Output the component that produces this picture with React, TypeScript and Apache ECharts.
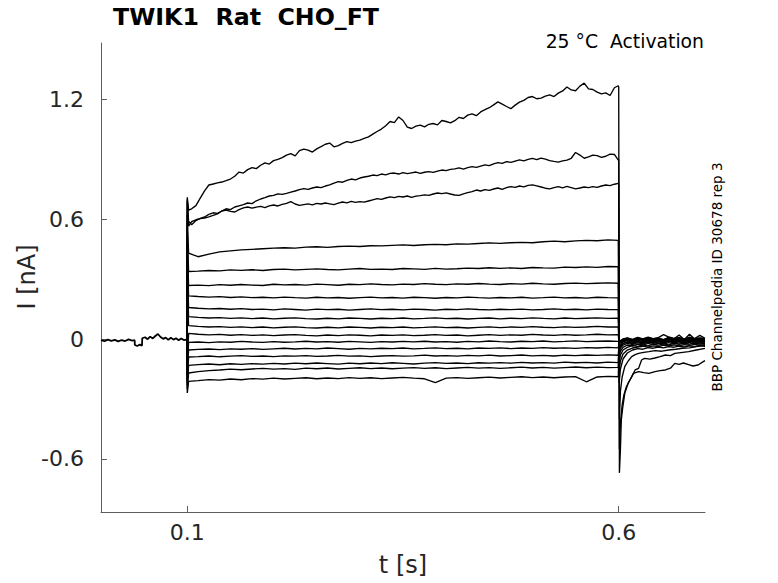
import React, { useEffect, useRef } from "react";
import * as echarts from "echarts";

// holding period before the step (shared by every sweep)
const baseT = [0, 0.004, 0.008, 0.012, 0.016, 0.02, 0.024, 0.028, 0.032, 0.036, 0.039, 0.0392, 0.042, 0.045, 0.0475, 0.0478, 0.051, 0.054, 0.057, 0.06, 0.063, 0.066, 0.069, 0.072, 0.075, 0.078, 0.081, 0.084, 0.087, 0.09, 0.093, 0.096, 0.0995];
const baseI = [-0.006, -0.011, -0.003, -0.009, -0.004, -0.012, -0.005, -0.010, -0.002, -0.008, -0.006, -0.030, -0.035, -0.028, -0.033, 0.004, 0.009, -0.001, 0.012, 0.003, 0.015, 0.025, 0.010, 0.001, 0.007, -0.004, 0.006, -0.003, 0.004, -0.006, 0.003, -0.005, -0.003];

// capacitive spike at step onset, one per sweep (top to bottom)
const onsetPeaks = [0.71, 0.7, 0.69, 0.62, 0.55, 0.48, 0.42, 0.36, 0.3, 0.25, -0.12, -0.15, -0.18, -0.21, -0.23, -0.25, -0.27];

// fine time base for the three large sweeps
const fineT = [0.1015,
  0.105, 0.11, 0.115, 0.12, 0.125, 0.13, 0.135, 0.14, 0.145, 0.15,
  0.155, 0.16, 0.165, 0.17, 0.175, 0.18, 0.185, 0.19, 0.195, 0.2,
  0.205, 0.21, 0.215, 0.22, 0.225, 0.23, 0.235, 0.24, 0.245, 0.25,
  0.255, 0.26, 0.265, 0.27, 0.275, 0.28, 0.285, 0.29, 0.295, 0.3,
  0.305, 0.31, 0.315, 0.32, 0.325, 0.33, 0.335, 0.34, 0.345, 0.35,
  0.355, 0.36, 0.365, 0.37, 0.375, 0.38, 0.385, 0.39, 0.395, 0.4,
  0.405, 0.41, 0.415, 0.42, 0.425, 0.43, 0.435, 0.44, 0.445, 0.45,
  0.455, 0.46, 0.465, 0.47, 0.475, 0.48, 0.485, 0.49, 0.495, 0.5,
  0.505, 0.51, 0.515, 0.52, 0.525, 0.53, 0.535, 0.54, 0.545, 0.55,
  0.555, 0.56, 0.565, 0.57, 0.575, 0.58, 0.585, 0.59, 0.595,
  0.5995];

const sweep1 = [0.645,
  0.652, 0.668, 0.705, 0.742, 0.771, 0.776, 0.782, 0.786, 0.793, 0.801,
  0.815, 0.836, 0.831, 0.848, 0.858, 0.853, 0.870, 0.882, 0.876, 0.893,
  0.899, 0.908, 0.921, 0.928, 0.917, 0.943, 0.951, 0.946, 0.936, 0.952,
  0.963, 0.975, 0.981, 0.962, 0.968, 0.979, 0.988, 0.983, 0.991, 0.996,
  1.004, 1.012, 1.026, 1.039, 1.051, 1.068, 1.089, 1.083, 1.112, 1.094,
  1.061, 1.054, 1.066, 1.071, 1.062, 1.075, 1.079, 1.072, 1.094, 1.089,
  1.082, 1.093, 1.110, 1.104, 1.121, 1.127, 1.118, 1.137, 1.148, 1.158,
  1.172, 1.187, 1.176, 1.164, 1.153, 1.171, 1.186, 1.195, 1.209, 1.214,
  1.203, 1.206, 1.216, 1.222, 1.214, 1.231, 1.242, 1.262, 1.247, 1.243,
  1.266, 1.281, 1.252, 1.249, 1.236, 1.227, 1.232, 1.219, 1.258,
  1.268];

const sweep2 = [0.590,
  0.572, 0.593, 0.604, 0.611, 0.624, 0.632, 0.629, 0.641, 0.652, 0.648,
  0.661, 0.667, 0.673, 0.681, 0.678, 0.692, 0.701, 0.708, 0.716, 0.719,
  0.727, 0.724, 0.729, 0.735, 0.741, 0.748, 0.753, 0.749, 0.756, 0.761,
  0.758, 0.766, 0.772, 0.781, 0.788, 0.785, 0.794, 0.801, 0.797, 0.806,
  0.811, 0.815, 0.821, 0.818, 0.826, 0.822, 0.829, 0.831, 0.826, 0.833,
  0.828, 0.832, 0.836, 0.829, 0.835, 0.838, 0.834, 0.841, 0.846, 0.843,
  0.849, 0.852, 0.857, 0.851, 0.858, 0.863, 0.859, 0.866, 0.872, 0.868,
  0.877, 0.883, 0.879, 0.888, 0.884, 0.891, 0.897, 0.892, 0.899, 0.904,
  0.898, 0.906, 0.901, 0.893, 0.889, 0.886, 0.892, 0.896, 0.905, 0.934,
  0.921, 0.905, 0.912, 0.921, 0.918, 0.909, 0.915, 0.926, 0.924,
  0.896];

const sweep3 = [0.565,
  0.588, 0.597, 0.603, 0.606, 0.612, 0.619, 0.626, 0.641, 0.646, 0.639,
  0.636, 0.648, 0.657, 0.661, 0.655, 0.660, 0.664, 0.658, 0.667, 0.671,
  0.666, 0.674, 0.679, 0.688, 0.676, 0.669, 0.673, 0.677, 0.672, 0.679,
  0.676, 0.681, 0.677, 0.673, 0.680, 0.686, 0.682, 0.689, 0.684, 0.688,
  0.685, 0.691, 0.697, 0.703, 0.699, 0.706, 0.712, 0.708, 0.714, 0.711,
  0.716, 0.709, 0.715, 0.718, 0.722, 0.719, 0.726, 0.731, 0.728, 0.732,
  0.726, 0.721, 0.719, 0.727, 0.733, 0.738, 0.746, 0.741, 0.748, 0.744,
  0.751, 0.756, 0.749, 0.758, 0.763, 0.759, 0.766, 0.762, 0.769, 0.772,
  0.767, 0.761, 0.755, 0.752, 0.758, 0.763, 0.757, 0.764, 0.758, 0.752,
  0.756, 0.761, 0.758, 0.763, 0.759, 0.766, 0.771, 0.768, 0.775,
  0.779];

// tail currents of the three large sweeps
const tail1T = [0.6, 0.6008, 0.602, 0.603, 0.6048, 0.6071, 0.611, 0.615, 0.619, 0.623, 0.6265, 0.63, 0.636, 0.642, 0.648, 0.654, 0.66, 0.665, 0.672, 0.681, 0.69, 0.7];
const tail1I = [1.262, -0.67, -0.55, -0.405, -0.338, -0.27, -0.22, -0.19, -0.155, -0.147, -0.105, -0.097, -0.101, -0.095, -0.088, -0.08, -0.083, -0.072, -0.068, -0.063, -0.055, -0.047];
const tail2T = [0.6, 0.6008, 0.602, 0.604, 0.606, 0.609, 0.613, 0.617, 0.623, 0.629, 0.635, 0.642, 0.648, 0.654, 0.66, 0.665, 0.67, 0.675, 0.681, 0.686, 0.692, 0.698, 0.7];
const tail2I = [0.9, -0.55, -0.42, -0.33, -0.28, -0.238, -0.205, -0.172, -0.163, -0.168, -0.172, -0.163, -0.158, -0.155, -0.146, -0.122, -0.127, -0.12, -0.128, -0.135, -0.13, -0.113, -0.108];
const tail3T = [0.6, 0.6008, 0.602, 0.604, 0.607, 0.611, 0.615, 0.619, 0.623, 0.629, 0.635, 0.642, 0.65, 0.658, 0.666, 0.674, 0.682, 0.69, 0.7];
const tail3I = [0.775, -0.4, -0.26, -0.19, -0.138, -0.11, -0.088, -0.078, -0.072, -0.067, -0.063, -0.058, -0.061, -0.055, -0.051, -0.046, -0.044, -0.038, -0.033];

// coarser time base for the fourteen flat sweeps
const stepT = [0.1015,
  0.1125, 0.125, 0.1375, 0.15, 0.1625, 0.175, 0.1875, 0.2, 0.2125, 0.225,
  0.2375, 0.25, 0.2625, 0.275, 0.2875, 0.3, 0.3125, 0.325, 0.3375, 0.35,
  0.3625, 0.375, 0.3875, 0.4, 0.4125, 0.425, 0.4375, 0.45, 0.4625, 0.475,
  0.4875, 0.5, 0.5125, 0.525, 0.5375, 0.55, 0.5625, 0.575, 0.5875,
  0.5995];

const flat4 = [0.430, 0.412, 0.425, 0.436, 0.441, 0.446, 0.449, 0.452, 0.455, 0.457, 0.455, 0.460, 0.462, 0.459, 0.463, 0.465, 0.463, 0.467, 0.466, 0.469, 0.471, 0.468, 0.472, 0.474, 0.472, 0.476, 0.475, 0.478, 0.481, 0.479, 0.482, 0.484, 0.482, 0.487, 0.490, 0.487, 0.491, 0.494, 0.492, 0.496, 0.494];
const flat5 = [0.338, 0.340, 0.343, 0.341, 0.346, 0.344, 0.347, 0.343, 0.348, 0.350, 0.346, 0.349, 0.351, 0.348, 0.346, 0.350, 0.353, 0.349, 0.350, 0.348, 0.353, 0.351, 0.349, 0.354, 0.350, 0.352, 0.355, 0.353, 0.357, 0.354, 0.356, 0.353, 0.358, 0.356, 0.355, 0.360, 0.358, 0.361, 0.359, 0.363, 0.362];
const flat6 = [0.268, 0.270, 0.267, 0.272, 0.269, 0.273, 0.270, 0.268, 0.274, 0.271, 0.273, 0.270, 0.275, 0.272, 0.269, 0.274, 0.272, 0.276, 0.273, 0.271, 0.275, 0.273, 0.277, 0.274, 0.272, 0.276, 0.274, 0.278, 0.275, 0.273, 0.277, 0.275, 0.279, 0.276, 0.274, 0.278, 0.280, 0.277, 0.279, 0.281, 0.279];
const flat7 = [0.216, 0.213, 0.210, 0.212, 0.208, 0.211, 0.207, 0.209, 0.206, 0.210, 0.207, 0.205, 0.209, 0.206, 0.208, 0.204, 0.207, 0.210, 0.206, 0.208, 0.205, 0.209, 0.207, 0.204, 0.208, 0.206, 0.210, 0.207, 0.205, 0.208, 0.206, 0.209, 0.205, 0.207, 0.210, 0.206, 0.208, 0.205, 0.209, 0.207, 0.206];
const flat8 = [0.158, 0.154, 0.151, 0.153, 0.149, 0.152, 0.148, 0.150, 0.146, 0.151, 0.148, 0.145, 0.150, 0.147, 0.149, 0.145, 0.148, 0.151, 0.147, 0.149, 0.146, 0.150, 0.148, 0.145, 0.149, 0.147, 0.151, 0.148, 0.146, 0.149, 0.147, 0.150, 0.146, 0.148, 0.151, 0.147, 0.149, 0.146, 0.150, 0.148, 0.147];
const flat9 = [0.112, 0.108, 0.105, 0.107, 0.103, 0.106, 0.102, 0.105, 0.101, 0.104, 0.106, 0.102, 0.100, 0.104, 0.101, 0.105, 0.103, 0.100, 0.104, 0.102, 0.105, 0.101, 0.103, 0.106, 0.102, 0.104, 0.100, 0.103, 0.105, 0.101, 0.104, 0.102, 0.106, 0.103, 0.101, 0.105, 0.102, 0.104, 0.106, 0.103, 0.104];
const flat10 = [0.067, 0.063, 0.060, 0.062, 0.058, 0.061, 0.057, 0.060, 0.056, 0.059, 0.061, 0.057, 0.055, 0.059, 0.056, 0.060, 0.058, 0.055, 0.059, 0.057, 0.060, 0.056, 0.058, 0.061, 0.057, 0.059, 0.055, 0.058, 0.061, 0.057, 0.060, 0.058, 0.062, 0.059, 0.057, 0.061, 0.058, 0.060, 0.063, 0.060, 0.061];
const flat11 = [0.028, 0.024, 0.021, 0.023, 0.019, 0.022, 0.018, 0.021, 0.017, 0.020, 0.022, 0.018, 0.016, 0.020, 0.017, 0.021, 0.019, 0.016, 0.020, 0.018, 0.021, 0.017, 0.019, 0.022, 0.018, 0.020, 0.016, 0.019, 0.022, 0.018, 0.021, 0.019, 0.023, 0.020, 0.018, 0.022, 0.019, 0.021, 0.024, 0.021, 0.022];
const flat12 = [-0.017, -0.015, -0.018, -0.014, -0.016, -0.012, -0.015, -0.017, -0.013, -0.016, -0.014, -0.011, -0.015, -0.013, -0.016, -0.012, -0.014, -0.017, -0.013, -0.015, -0.012, -0.014, -0.011, -0.015, -0.013, -0.016, -0.012, -0.014, -0.010, -0.013, -0.015, -0.011, -0.013, -0.010, -0.014, -0.012, -0.009, -0.013, -0.011, -0.010, -0.012];
const flat13 = [-0.055, -0.052, -0.050, -0.053, -0.049, -0.051, -0.048, -0.052, -0.049, -0.046, -0.050, -0.047, -0.049, -0.045, -0.048, -0.051, -0.047, -0.049, -0.046, -0.048, -0.045, -0.049, -0.047, -0.044, -0.048, -0.046, -0.049, -0.045, -0.047, -0.044, -0.048, -0.045, -0.047, -0.043, -0.046, -0.044, -0.047, -0.043, -0.045, -0.042, -0.044];
const flat14 = [-0.090, -0.088, -0.085, -0.089, -0.086, -0.083, -0.087, -0.085, -0.088, -0.084, -0.086, -0.083, -0.087, -0.085, -0.082, -0.086, -0.084, -0.088, -0.085, -0.083, -0.086, -0.084, -0.081, -0.085, -0.083, -0.086, -0.082, -0.084, -0.081, -0.085, -0.083, -0.080, -0.084, -0.082, -0.085, -0.081, -0.083, -0.080, -0.082, -0.079, -0.081];
const flat15 = [-0.132, -0.128, -0.125, -0.129, -0.124, -0.127, -0.123, -0.126, -0.122, -0.125, -0.121, -0.124, -0.120, -0.123, -0.126, -0.121, -0.124, -0.120, -0.123, -0.119, -0.122, -0.125, -0.121, -0.118, -0.122, -0.120, -0.123, -0.119, -0.121, -0.118, -0.121, -0.117, -0.120, -0.118, -0.121, -0.116, -0.119, -0.117, -0.120, -0.116, -0.118];
const flat16 = [-0.170, -0.163, -0.158, -0.155, -0.151, -0.154, -0.150, -0.147, -0.151, -0.148, -0.152, -0.146, -0.149, -0.145, -0.150, -0.147, -0.144, -0.148, -0.145, -0.149, -0.146, -0.143, -0.147, -0.144, -0.148, -0.145, -0.142, -0.146, -0.143, -0.147, -0.144, -0.141, -0.145, -0.142, -0.146, -0.143, -0.140, -0.144, -0.141, -0.143, -0.142];
const flat17 = [-0.212, -0.208, -0.203, -0.206, -0.200, -0.204, -0.198, -0.201, -0.196, -0.200, -0.197, -0.194, -0.199, -0.195, -0.198, -0.193, -0.197, -0.194, -0.198, -0.195, -0.192, -0.196, -0.199, -0.218, -0.196, -0.193, -0.197, -0.194, -0.191, -0.195, -0.192, -0.189, -0.193, -0.190, -0.194, -0.190, -0.188, -0.214, -0.190, -0.187, -0.189];

// tail currents of the flat sweeps
const tailT = [0.6005, 0.602, 0.605, 0.61, 0.616, 0.622, 0.628, 0.634, 0.64, 0.646, 0.652, 0.658, 0.664, 0.67, 0.676, 0.682, 0.688, 0.694, 0.7];
const tail4 = [-0.22, -0.15, -0.10, -0.07, -0.055, -0.048, -0.051, -0.043, -0.046, -0.040, -0.044, -0.038, -0.041, -0.036, -0.040, -0.034, -0.038, -0.032, -0.036];
const tail5 = [-0.16, -0.11, -0.075, -0.055, -0.045, -0.040, -0.036, -0.041, -0.034, -0.038, -0.031, -0.035, -0.029, -0.034, -0.028, -0.032, -0.027, -0.031, -0.028];
const tail6 = [-0.12, -0.08, -0.055, -0.042, -0.032, -0.037, -0.029, -0.034, -0.026, -0.031, -0.024, -0.029, -0.022, -0.027, -0.021, -0.026, -0.020, -0.025, -0.022];
const tail7 = [-0.09, -0.06, -0.042, -0.030, -0.036, -0.025, -0.031, -0.022, -0.028, -0.020, -0.026, -0.018, -0.024, -0.019, -0.025, -0.017, -0.023, -0.018, -0.021];
const tail8 = [-0.07, -0.045, -0.030, -0.022, -0.028, -0.018, -0.025, -0.015, -0.022, -0.014, -0.020, -0.012, -0.019, -0.013, -0.021, -0.011, -0.018, -0.014, -0.017];
const tail9 = [-0.05, -0.035, -0.022, -0.015, -0.021, -0.012, -0.018, -0.009, -0.016, -0.008, -0.015, -0.007, -0.014, -0.009, -0.017, -0.006, -0.013, -0.008, -0.014];
const tail10 = [-0.04, -0.033, -0.022, -0.015, -0.023, -0.012, -0.020, -0.010, -0.018, -0.011, -0.021, -0.009, -0.017, -0.012, -0.020, -0.008, -0.016, -0.011, -0.015];
const tail11 = [-0.03, -0.026, -0.014, -0.008, -0.016, -0.006, -0.013, -0.004, -0.012, -0.007, -0.015, -0.003, -0.011, -0.006, -0.014, -0.002, -0.010, -0.005, -0.009];
const tail12 = [-0.02, -0.018, -0.008, -0.002, -0.010, 0.000, -0.008, 0.002, -0.006, -0.001, -0.009, 0.003, -0.005, 0.000, -0.008, 0.004, -0.004, 0.001, -0.003];
const tail13 = [-0.015, -0.012, -0.003, 0.002, -0.005, 0.005, -0.003, 0.006, -0.002, 0.003, -0.004, 0.007, -0.001, 0.004, -0.003, 0.024, 0.000, 0.005, 0.001];
const tail14 = [-0.012, -0.008, 0.000, 0.006, -0.002, 0.008, 0.001, 0.009, 0.002, 0.007, 0.022, 0.010, 0.003, 0.008, 0.000, 0.009, 0.002, 0.018, 0.003];
const tail15 = [-0.01, -0.010, -0.002, 0.004, -0.004, 0.006, -0.001, 0.007, 0.000, 0.005, -0.003, 0.008, 0.001, 0.020, -0.002, 0.007, 0.000, 0.004, 0.001];
const tail16 = [-0.008, -0.012, -0.006, 0.000, -0.008, 0.002, -0.005, 0.003, -0.004, 0.001, -0.007, 0.004, -0.003, 0.002, -0.006, 0.003, -0.004, 0.000, -0.003];
const tail17 = [-0.006, -0.014, -0.009, -0.004, -0.012, -0.002, -0.009, -0.001, -0.008, -0.003, -0.011, 0.000, -0.007, -0.002, -0.010, -0.001, -0.008, -0.004, -0.007];

const xTicks = [0.1, 0.6];
const yTicks = [-0.6, 0, 0.6, 1.2];

const bigSweeps = [
  { step: sweep1, tT: tail1T, tI: tail1I },
  { step: sweep2, tT: tail2T, tI: tail2I },
  { step: sweep3, tT: tail3T, tI: tail3I },
];
const flatSweeps = [
  [flat4, tail4], [flat5, tail5], [flat6, tail6], [flat7, tail7], [flat8, tail8],
  [flat9, tail9], [flat10, tail10], [flat11, tail11], [flat12, tail12], [flat13, tail13],
  [flat14, tail14], [flat15, tail15], [flat16, tail16], [flat17, tail17],
];

const zip = (ts: number[], vs: number[]) => ts.map((t, i) => [t, vs[i]]).filter((p) => p[1] !== undefined);

const FONT = "DejaVu Sans";
const INK = "#262626";
const AXIS = "#5e5e5e";

const App: React.FC = () => {
  const ref = useRef<HTMLDivElement>(null);

  useEffect(() => {
    if (!ref.current) return;
    const chart = echarts.init(ref.current, null, { renderer: "svg" });

    const line = (data: number[][], width = 1.35) => ({
      type: "line",
      data,
      showSymbol: false,
      silent: true,
      lineStyle: { color: "#000", width },
    });

    const series: any[] = [line(zip(baseT, baseI), 1.8)];
    bigSweeps.forEach((s, k) => {
      series.push(line([[0.0995, -0.004], [0.1, onsetPeaks[k]], ...zip(fineT, s.step), ...zip(s.tT, s.tI)]));
    });
    flatSweeps.forEach(([st, tl], k) => {
      series.push(line([[0.0995, -0.004], [0.1, onsetPeaks[k + 3]], ...zip(stepT, st), ...zip(tailT, tl)]));
    });

    chart.setOption({
      animation: false,
      grid: { left: 101, right: 73, top: 43, bottom: 71 },
      xAxis: {
        type: "value",
        min: 0,
        max: 0.7,
        axisLine: { show: true, onZero: false, lineStyle: { color: AXIS, width: 1 } },
        axisTick: { show: true, inside: true, length: 6, customValues: xTicks, lineStyle: { color: AXIS } },
        axisLabel: { customValues: xTicks, fontSize: 22, color: INK, fontFamily: FONT, margin: 9 },
        splitLine: { show: false },
      },
      yAxis: {
        type: "value",
        min: -0.866,
        max: 1.482,
        axisLine: { show: true, onZero: false, lineStyle: { color: AXIS, width: 1 } },
        axisTick: { show: true, inside: true, length: 6, customValues: yTicks, lineStyle: { color: AXIS } },
        axisLabel: { customValues: yTicks, fontSize: 22, color: INK, fontFamily: FONT, margin: 17 },
        splitLine: { show: false },
      },
      graphic: [
        {
          type: "text", left: 113, top: 5,
          style: { text: "TWIK1  Rat  CHO_FT", font: `bold 23.7px "${FONT}"`, fill: "#000" },
        },
        {
          type: "text", x: 704, y: 41,
          style: { text: "25 °C  Activation", font: `18.8px "${FONT}"`, fill: "#000", textAlign: "right", textVerticalAlign: "middle" },
        },
        {
          type: "text", x: 403, y: 565,
          style: { text: "t [s]", font: `24px "${FONT}"`, fill: INK, textAlign: "center", textVerticalAlign: "middle" },
        },
        {
          type: "text", x: 27, y: 277, rotation: Math.PI / 2,
          style: { text: "I [nA]", font: `24px "${FONT}"`, fill: INK, textAlign: "center", textVerticalAlign: "middle" },
        },
        {
          type: "text", x: 717, y: 277, rotation: Math.PI / 2,
          style: { text: "BBP Channelpedia ID 30678 rep 3", font: `13.5px "${FONT}"`, fill: "#000", textAlign: "center", textVerticalAlign: "middle" },
        },
      ],
      series,
    });

    return () => {
      chart.dispose();
    };
  }, []);

  return <div ref={ref} style={{ position: "absolute", left: 0, top: 0, width: 778, height: 583, background: "#fff" }} />;
};

export default App;
